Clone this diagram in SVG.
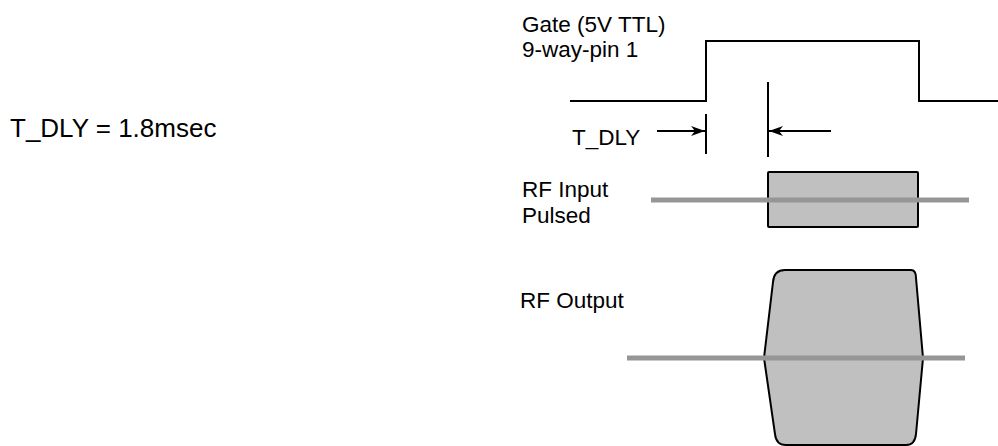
<svg xmlns="http://www.w3.org/2000/svg" width="998" height="446" viewBox="0 0 998 446">
<style>
text{font-family:"Liberation Sans",Arial,sans-serif;fill:#000}
.lbl{font-size:22.5px}
.big{font-size:26px}
.k{fill:none;stroke:#000;stroke-width:2}
.sig{stroke:#969696;stroke-width:5}
.box{fill:#c0c0c0;stroke:#000;stroke-width:2}
</style>
<defs>
<marker id="ah" viewBox="0 0 14 10" refX="14" refY="5" markerWidth="14" markerHeight="10" markerUnits="userSpaceOnUse" orient="auto">
<path d="M0,0 L14,5 L0,10 L4,5 Z" fill="#000"/>
</marker>
</defs>
<rect width="998" height="446" fill="#fff"/>
<text class="big" x="10" y="137">T_DLY = 1.8msec</text>
<g id="gate">
<text class="lbl" x="522" y="32">Gate (5V TTL)</text>
<text class="lbl" x="522" y="57">9-way-pin 1</text>
<path class="k" d="M570,101 H706 V41 H919 V101 H998"/>
</g>
<g id="tdly">
<text class="lbl" x="572" y="145">T_DLY</text>
<line class="k" x1="706" y1="114" x2="706" y2="154"/>
<line class="k" x1="768" y1="82" x2="768" y2="157"/>
</g>
<g id="rf-input">
<text class="lbl" x="522" y="197">RF Input</text>
<text class="lbl" x="522" y="223">Pulsed</text>
<rect class="box" x="768" y="172" width="150" height="55" rx="1"/>
<line class="sig" x1="651" y1="200" x2="969" y2="200"/>
</g>
<g id="rf-output">
<text class="lbl" x="520" y="308">RF Output</text>
<path class="box" d="M785,270 H911 Q916,270 916,278 L923,358 L916,434 Q915,445 906,445 H786 Q776,445 775,434 L764,358 L773,282 Q774,270 785,270 Z"/>
<line class="sig" x1="627" y1="358" x2="965" y2="358"/>
</g>
<g id="connectors">
<line class="k" x1="657" y1="131" x2="705" y2="131" marker-end="url(#ah)"/>
<line class="k" x1="831" y1="131" x2="769" y2="131" marker-end="url(#ah)"/>
</g>
</svg>
